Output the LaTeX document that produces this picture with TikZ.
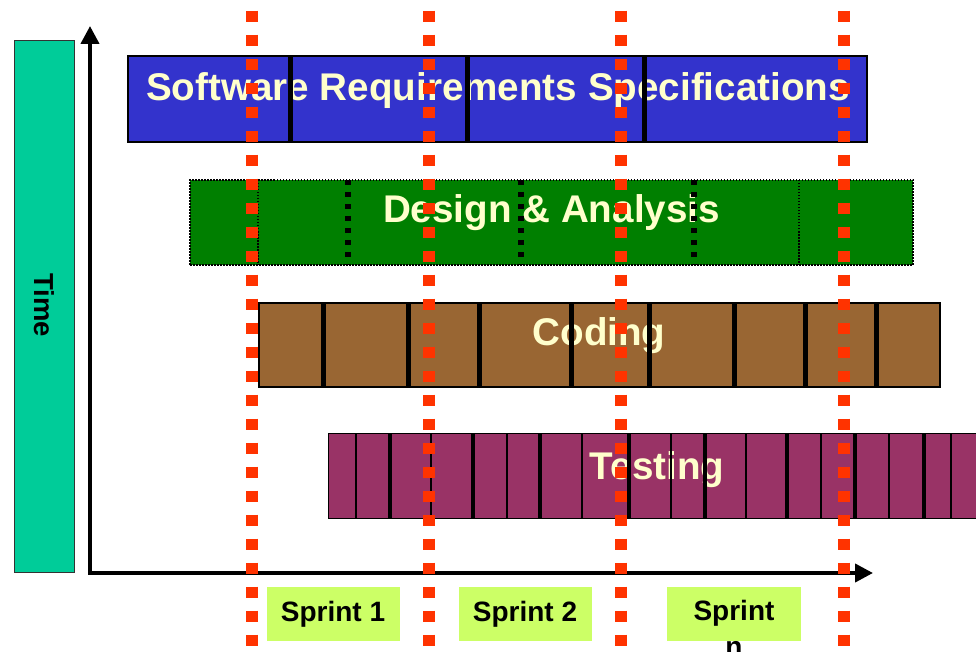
\documentclass[tikz,border=0pt]{standalone}
\usepackage{fontspec}
\setmainfont{Liberation Sans}
\usetikzlibrary{arrows.meta}
\definecolor{srsblue}{HTML}{3333CC}
\definecolor{desgreen}{HTML}{007F00}
\definecolor{codbrown}{HTML}{996633}
\definecolor{testpurple}{HTML}{993366}
\definecolor{timegreen}{HTML}{00CC99}
\definecolor{sprintgreen}{HTML}{CCFF66}
\definecolor{redline}{HTML}{FF3300}
\definecolor{textyellow}{HTML}{FFFFCC}
\tikzset{
  barbox/.style={draw=black, line width=1.5pt, inner sep=0pt},
  bartext/.style={anchor=base, inner sep=0pt, text=textyellow, font=\fontsize{38.6}{42}\selectfont\bfseries},
  sprintbox/.style={fill=sprintgreen, inner sep=0pt, minimum width=133pt, minimum height=54pt},
  sprinttext/.style={anchor=base, inner sep=0pt, text=black, font=\fontsize{28}{32}\selectfont\bfseries},
  thickdiv/.style={line width=5pt, black},
  thindiv/.style={line width=1.2pt, black},
  thickdot/.style={line width=5.5pt, black, dash pattern=on 5pt off 7pt},
  thindot/.style={line width=1.5pt, black, dash pattern=on 1.5pt off 1.5pt},
  sprintline/.style={line width=12pt, redline, dash pattern=on 11.6pt off 12.4pt},
  axis/.style={line width=4pt, black, {Triangle[length=18pt,width=18pt]}-{Triangle[length=18pt,width=18pt]}}
}
\begin{document}
\begin{tikzpicture}[x=1pt,y=-1pt]
\clip (0,0) rectangle (976,652);
\fill[white] (0,0) rectangle (976,652);

% Time box
\node[draw=black!80, line width=1pt, fill=timegreen, minimum width=60pt, minimum height=531pt, inner sep=0pt] (timebox) at (44,306.5) {};
\node[rotate=-90, inner sep=0pt, font=\fontsize{27.5}{30}\selectfont\bfseries] (timelabel) at (44,305) {Time};

% axes
\coordinate (ytip) at (90,26);
\coordinate (origin) at (90,573);
\coordinate (xtip) at (873,573);
\draw[axis] (ytip) -- (origin) -- (xtip);

% bars
\node[barbox, fill=srsblue, minimum width=739pt, minimum height=86pt] (srs) at (497.5,99) {};
\node[draw=black, line width=1.5pt, dash pattern=on 1.5pt off 1.5pt, fill=desgreen, inner sep=0pt, minimum width=723pt, minimum height=85pt] (design) at (551.5,222.5) {};
\node[barbox, fill=codbrown, minimum width=681pt, minimum height=84pt] (coding) at (599.5,345) {};
\node[barbox, line width=1pt, fill=testpurple, minimum width=658pt, minimum height=85pt] (testing) at (657,475.5) {};

% bar texts
\node[bartext] (srstext) at (498,101) {Software Requirements Specifications};
\node[bartext] (designtext) at (551.5,223) {Design \& Analysis};
\node[bartext] (codingtext) at (599,345) {Coding};
\node[bartext] (testingtext) at (657,479) {Testing};

% SRS dividers
\foreach \x in {290,467,644} \draw[thickdiv] (\x,56) -- (\x,142);
% Design dividers
\foreach \x in {348,521,694} \draw[thickdot] (\x,180) -- (\x,265);
\foreach \x in {258,799} \draw[thindot] (\x,180) -- (\x,265);
% Coding dividers
\foreach \x in {323,408,479,571,649,734,805,876} \draw[thickdiv] (\x,303) -- (\x,387);
% Testing dividers
\foreach \x in {390,473,540,629,705,787,855,924} \draw[thickdiv, line width=4.5pt] (\x,433) -- (\x,518);
\foreach \x in {356,431,507,582,671,746,821,889,951} \draw[thindiv] (\x,433) -- (\x,518);

% sprint boxes
\node[sprintbox] (s1box) at (333.5,614) {};
\node[sprintbox] (s2box) at (525.5,614) {};
\node[sprintbox, minimum width=134pt] (snbox) at (734,614) {};
\node[sprinttext] (s1text) at (333,621) {Sprint 1};
\node[sprinttext] (s2text) at (525,621) {Sprint 2};
\node[sprinttext] (sntext) at (734,620) {Sprint};
\node[sprinttext] (sntext2) at (734,656) {n};

% red sprint boundary lines
\foreach \x in {252,429,621,844} \draw[sprintline] (\x,10.7) -- (\x,660);
\end{tikzpicture}
\end{document}
